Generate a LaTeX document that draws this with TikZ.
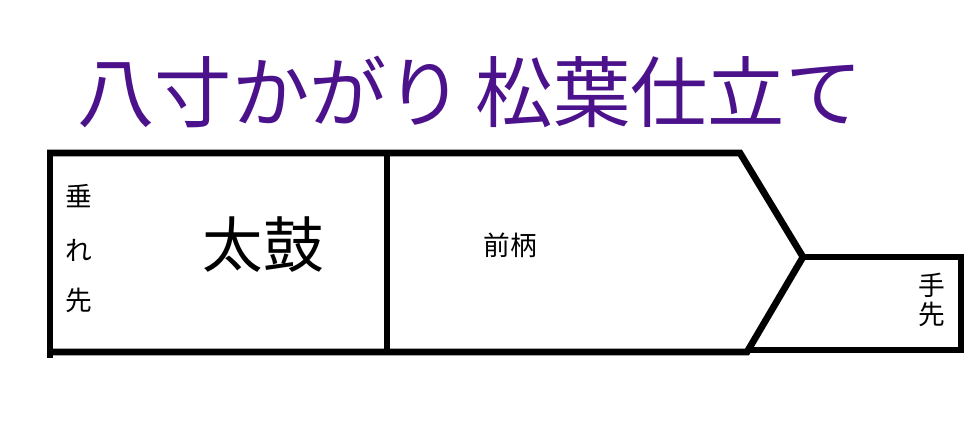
\documentclass[tikz,border=0pt]{standalone}
\usepackage{fontspec}
\usepackage{xcolor}
\usepackage{tikz}
\newfontfamily\jpfont{Noto Sans CJK JP}
\definecolor{titlepurple}{RGB}{75,18,140}

\begin{document}
\begin{tikzpicture}[x=0.025cm, y=-0.025cm,
    obi/.style={line width=4.8pt},
    tesakiline/.style={line width=3.7pt},
    label/.style={font=\jpfont\fontsize{19}{19}\selectfont, inner sep=0pt}]
    \useasboundingbox (0,0) rectangle (976,433);

    \node[font=\jpfont\fontsize{55}{55}\selectfont, text=titlepurple, inner sep=0pt] (title) at (470,92) {八寸かがり\hspace{0.15em}松葉仕立て};

    \coordinate (TL) at (47,153);
    \coordinate (BL) at (47,352);
    \coordinate (TR) at (740,153);
    \coordinate (P) at (803,257);
    \coordinate (BR) at (747,352);
    \coordinate (ET) at (961,257);
    \coordinate (EB) at (961,350);

    \draw[obi] (50,150) -- (50,358);
    \draw[obi] (TL) -- (TR) -- (P) -- (BR) -- (BL);
    \draw[obi] (387,153) -- (387,352);
    \draw[tesakiline] (P) -- (ET) -- (EB) -- (BR |- EB);

    \node[label] (tare1) at (79,196) {垂};
    \node[label] (tare2) at (79,250) {れ};
    \node[label] (tare3) at (79,300) {先};

    \node[font=\jpfont\fontsize{43}{43}\selectfont, inner sep=0pt] (taiko) at (263,245) {太鼓};
    \node[label] (maegara) at (510,245) {前柄};

    \node[label] (te1) at (932,285) {手};
    \node[label] (te2) at (932,314) {先};
\end{tikzpicture}
\end{document}
